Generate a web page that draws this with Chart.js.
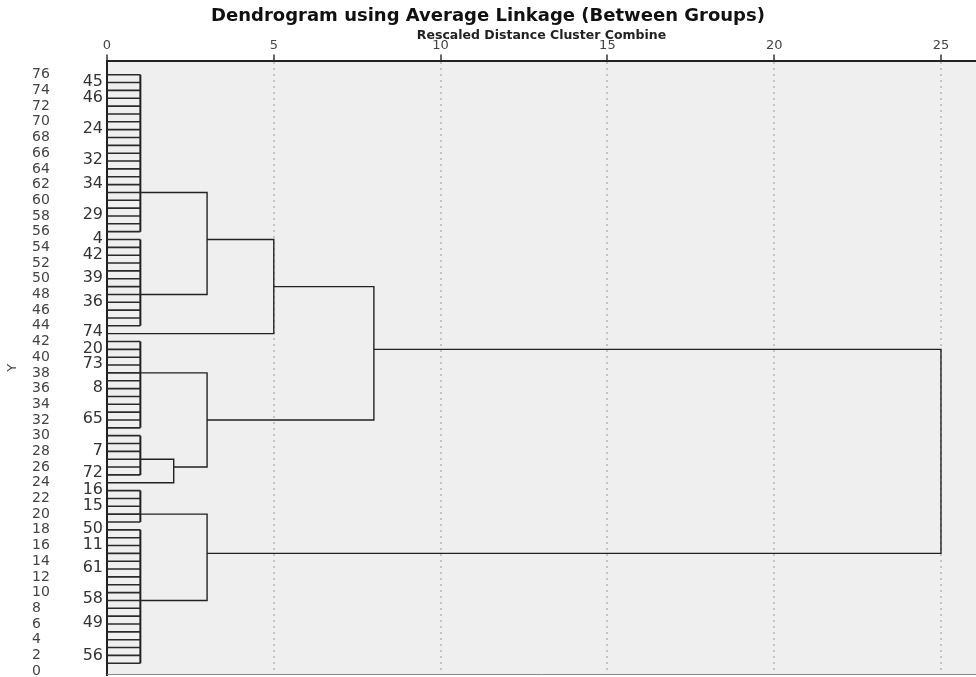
<!DOCTYPE html>
<html>
<head>
<meta charset="utf-8">
<script src="https://cdn.jsdelivr.net/npm/chart.js@4.4.0/dist/chart.umd.min.js"></script>
<style>
  html, body { margin: 0; padding: 0; background: #fff; }
</style>
</head>
<body>
<canvas id="dendro" width="976" height="677"></canvas>
<script>
// case labels SPSS prints next to the leaves, and the row they sit on
const caseLabels = ['45','46','24','32','34','29','4','42','39','36','74','20','73','8','65','7','72','16','15','50','11','61','58','49','56'];
const caseRows = [75.1,73.1,69.1,65.2,62.1,58.2,55.1,53.1,50.1,47.1,43.2,41.1,39.1,36.1,32.1,28.1,25.2,23.1,21.1,18.1,16.1,13.2,9.2,6.1,2.0];

const yTicks = [0,2,4,6,8,10,12,14,16,18,20,22,24,26,28,30,32,34,36,38,40,42,44,46,48,50,52,54,56,58,60,62,64,66,68,70,72,74,76];
const xTicks = [0,5,10,15,20,25];

// first level clusters (rows top..bottom, all joined at distance 1)
const groupNames  = ['A','B','C','D','E','F'];
const groupTop    = [76,55,42,30,23,18];
const groupBottom = [56,44,31,25,19,1];
const groupDist   = [1,1,1,1,1,1];
const groupExit   = [61,48,38,27,20,9];

// cases that stay alone until a later step
const loneNames = ['L74','L72'];
const loneRows  = [43,24];

// later merges
const mergeLeft  = ['A','AB','D','C','AB74','E','ABC'];
const mergeRight = ['B','L74','L72','D72','CD','F','EF'];
const mergeName  = ['AB','AB74','D72','CD','ABC','EF','ALL'];
const mergeDist  = [3,5,2,3,8,3,25];
const mergeExit  = [55,49,26,32,41,15,28];

const FONT = 'DejaVu Sans';
const yMin = -0.5, yMax = 77.8;

const datasets = [];
function path(pts, w, c) {
  datasets.push({
    data: pts, showLine: true, borderColor: c, borderWidth: w,
    pointRadius: 0, pointHoverRadius: 0, fill: false, tension: 0,
    xAxisID: 'x', yAxisID: 'y'
  });
}

const nodes = {};
groupNames.forEach((g, i) => {
  for (let r = groupBottom[i]; r <= groupTop[i]; r++) {
    path([{x: 0, y: r}, {x: groupDist[i], y: r}], 1.6, '#2a2a2a');
  }
  path([{x: groupDist[i], y: groupTop[i]}, {x: groupDist[i], y: groupBottom[i]}], 2, '#222');
  nodes[g] = {x: groupDist[i], y: groupExit[i]};
});
loneNames.forEach((n, i) => { nodes[n] = {x: 0, y: loneRows[i]}; });

mergeName.forEach((m, i) => {
  const a = nodes[mergeLeft[i]], b = nodes[mergeRight[i]], d = mergeDist[i];
  path([{x: a.x, y: a.y}, {x: d, y: a.y}, {x: d, y: b.y}, {x: b.x, y: b.y}], 1.4, '#222');
  nodes[m] = {x: d, y: mergeExit[i]};
});

const plotBg = {
  id: 'plotBg',
  beforeDraw(chart) {
    const {ctx, chartArea: a} = chart;
    ctx.save();
    ctx.fillStyle = '#efefef';
    ctx.fillRect(a.left, a.top, a.right - a.left, a.bottom - a.top);
    ctx.restore();
  },
  afterDatasetsDraw(chart) {
    const {ctx, chartArea: a} = chart;
    ctx.save();
    ctx.strokeStyle = '#8a8a8a';
    ctx.lineWidth = 1;
    ctx.beginPath();
    ctx.moveTo(a.left, a.bottom - 0.5);
    ctx.lineTo(a.right, a.bottom - 0.5);
    ctx.stroke();
    ctx.restore();
  }
};

function noPad(s) { s.paddingTop = 0; s.paddingBottom = 0; s.paddingLeft = 0; s.paddingRight = 0; }

new Chart(document.getElementById('dendro'), {
  type: 'scatter',
  data: { datasets: datasets },
  plugins: [plotBg],
  options: {
    responsive: false,
    animation: false,
    layout: { padding: { left: 0, right: 0, top: 0, bottom: 2 } },
    plugins: {
      legend: { display: false },
      tooltip: { enabled: false },
      title: {
        display: true,
        text: 'Dendrogram using Average Linkage (Between Groups)',
        color: '#111',
        font: { family: FONT, size: 18, weight: 'bold' },
        padding: { top: 6, bottom: 1 }
      }
    },
    scales: {
      x: {
        type: 'linear', position: 'top', min: 0, max: 26.05,
        afterBuildTicks: s => { s.ticks = xTicks.map(v => ({value: v})); },
        afterFit: s => { s.height = 32; noPad(s); },
        title: {
          display: true, text: 'Rescaled Distance Cluster Combine', color: '#222',
          font: { family: FONT, size: 12.5, weight: 'bold' }, padding: { top: 0, bottom: 1 }
        },
        ticks: { color: '#444', font: { family: FONT, size: 13 }, padding: 1, maxRotation: 0 },
        grid: {
          color: c => (c.tick && c.tick.value === 0) ? 'rgba(0,0,0,0)' : '#c4c4c4',
          lineWidth: 2,
          tickColor: '#333', tickLength: 6, tickWidth: 1.5, tickBorderDash: []
        },
        border: { display: true, color: '#222', width: 2, dash: [2, 4] }
      },
      y: {
        type: 'linear', position: 'left', weight: 1, min: yMin, max: yMax,
        afterBuildTicks: s => { s.ticks = caseRows.map(v => ({value: v})); },
        afterFit: s => { s.width = 45; noPad(s); },
        ticks: {
          color: '#333', font: { family: FONT, size: 16 }, padding: 4, autoSkip: false,
          callback: (v, i) => caseLabels[i]
        },
        grid: { display: false, drawTicks: false },
        border: { display: true, color: '#222', width: 2 }
      },
      yNum: {
        type: 'linear', position: 'left', weight: 2, min: yMin, max: yMax,
        afterBuildTicks: s => { s.ticks = yTicks.map(v => ({value: v})); },
        afterFit: s => { s.width = 30; noPad(s); },
        ticks: { color: '#444', font: { family: FONT, size: 14 }, crossAlign: 'far', autoSkip: false },
        grid: { display: false, drawTicks: false },
        border: { display: false }
      },
      yTitle: {
        type: 'linear', position: 'left', weight: 3, min: yMin, max: yMax,
        afterFit: s => { s.width = 32; noPad(s); },
        ticks: { display: false },
        grid: { display: false, drawTicks: false },
        border: { display: false },
        title: { display: true, text: 'Y', color: '#444', font: { family: FONT, size: 13 }, padding: { top: 5, bottom: 0 } }
      }
    }
  }
});
</script>
</body>
</html>
